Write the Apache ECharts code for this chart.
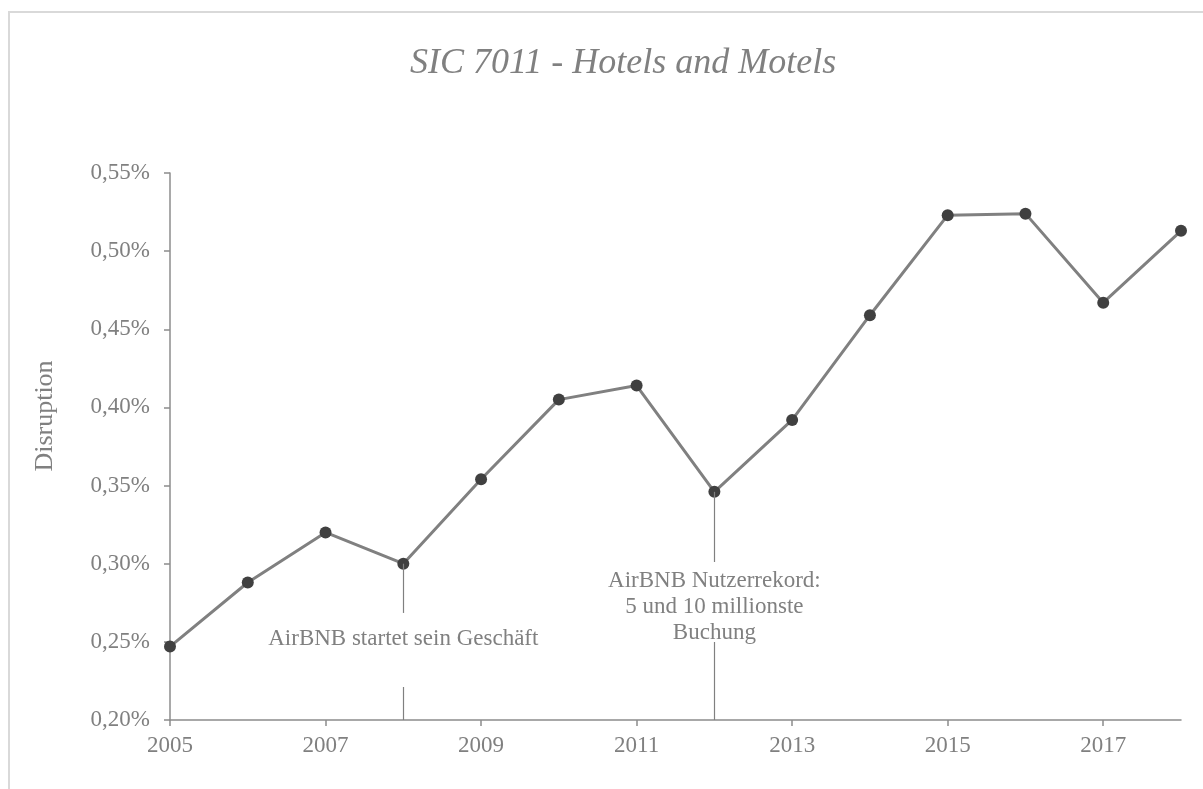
<!DOCTYPE html>
<html>
<head>
<meta charset="utf-8">
<script src="https://cdn.jsdelivr.net/npm/echarts@6/dist/echarts.min.js"></script>
<style>
  html, body { margin: 0; padding: 0; background: #ffffff; }
  #chart { width: 1203px; height: 789px; }
</style>
</head>
<body>
<div id="chart"></div>
<script>
// Years on the x axis
const years = ['2005','2006','2007','2008','2009','2010','2011','2012','2013','2014','2015','2016','2017','2018'];
// Disruption share in percent
const disruption = [0.247, 0.288, 0.320, 0.300, 0.354, 0.405, 0.414, 0.346, 0.392, 0.459, 0.523, 0.524, 0.467, 0.513];
// Event annotations
const eventYears = ['2008', '2012'];
const eventTexts = ['AirBNB startet sein Geschäft', 'AirBNB Nutzerrekord:\n5 und 10 millionste\nBuchung'];

const FONT = '"Liberation Serif", "DejaVu Serif", serif';
const GREY = '#808080';
const AXIS = '#8c8c8c';
const yMin = 0.20, yMax = 0.55, yStep = 0.05;

function pct(v) { return v.toFixed(2).replace('.', ',') + '%'; }
function valueAt(year) { return disruption[years.indexOf(year)]; }

// y-axis placement of each event text, and the stretch of its rule left open around the text
const labelAnchors = [0.2518, 0.2725];
const ruleGaps = [[0.2211, 0.2685], [0.2499, 0.3011]];

// each rule is drawn as two segments: data point -> top of gap, bottom of gap -> axis
const ruleSegments = [];
eventYears.forEach((y, i) => {
  ruleSegments.push([{ coord: [y, valueAt(y)] }, { coord: [y, ruleGaps[i][1]] }]);
  ruleSegments.push([{ coord: [y, ruleGaps[i][0]] }, { coord: [y, yMin] }]);
});

const chart = echarts.init(document.getElementById('chart'));
chart.setOption({
  animation: false,
  backgroundColor: '#ffffff',
  graphic: [
    {
      type: 'rect', left: 8, top: 11, z: -10,
      shape: { width: 1400, height: 1000 },
      style: { fill: '#ffffff', stroke: '#d9d9d9', lineWidth: 2 }
    },
    {
      type: 'text', x: 45, y: 416, rotation: Math.PI / 2,
      style: {
        text: 'Disruption', fontFamily: FONT, fontSize: 26, fill: GREY,
        align: 'center', verticalAlign: 'middle'
      }
    }
  ],
  title: {
    text: 'SIC 7011 - Hotels and Motels',
    left: 405, top: 41,
    textStyle: { fontFamily: FONT, fontStyle: 'italic', fontWeight: 'normal', fontSize: 36, color: GREY }
  },
  grid: { left: 170, right: 22, top: 173, bottom: 69 },
  xAxis: {
    type: 'category',
    data: years,
    boundaryGap: false,
    axisLine: { lineStyle: { color: AXIS, width: 1.5 } },
    axisTick: { show: true, interval: 1, length: 6, lineStyle: { color: AXIS, width: 1.5 } },
    axisLabel: { interval: 1, margin: 14, fontFamily: FONT, fontSize: 23, color: GREY }
  },
  yAxis: {
    type: 'value',
    min: yMin, max: yMax, interval: yStep,
    splitLine: { show: false },
    axisLine: { show: true, lineStyle: { color: AXIS, width: 1.5 } },
    axisTick: { show: true, length: 6, lineStyle: { color: AXIS, width: 1.5 } },
    axisLabel: { margin: 20, fontFamily: FONT, fontSize: 23, color: GREY, formatter: pct }
  },
  series: [
    {
      // event markers: vertical rule from the data point down to the axis, broken around the text
      type: 'line',
      data: [],
      z: 1,
      silent: true,
      markLine: {
        symbol: 'none',
        silent: true,
        label: { show: false },
        lineStyle: { color: GREY, width: 1.2, type: 'solid' },
        data: ruleSegments
      },
      markPoint: {
        symbolSize: 0,
        silent: true,
        data: eventYears.map((y, i) => ({
          coord: [y, labelAnchors[i]],
          label: {
            show: true,
            position: 'inside',
            formatter: eventTexts[i],
            fontFamily: FONT, fontSize: 23, color: GREY,
            lineHeight: 26, align: 'center'
          }
        }))
      }
    },
    {
      type: 'line',
      data: disruption,
      z: 3,
      symbol: 'circle',
      symbolSize: 12,
      lineStyle: { color: GREY, width: 3 },
      itemStyle: { color: '#404040', borderWidth: 0 }
    }
  ]
});
</script>
</body>
</html>
